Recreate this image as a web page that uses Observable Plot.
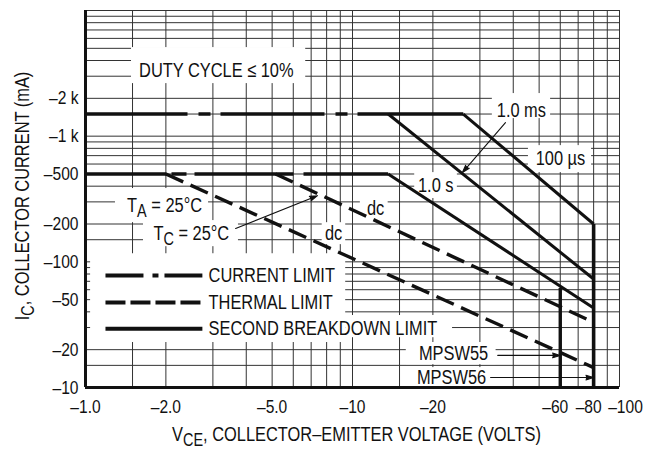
<!DOCTYPE html>
<html><head><meta charset="utf-8">
<script src="https://cdn.jsdelivr.net/npm/d3@7"></script>
<script src="https://cdn.jsdelivr.net/npm/@observablehq/plot@0.6"></script>
<style>
html,body{margin:0;padding:0;background:#fff;}
#chart{width:660px;height:450px;}
</style></head><body><div id="chart"></div>
<script>
// ---------- axes ----------
const xTickValues = [1, 2, 5, 10, 20, 60, 80, 100];
const xTickLabels = ["–1.0", "–2.0", "–5.0", "–10", "–20", "–60", "–80", "–100"];
const yTickValues = [10, 20, 50, 100, 200, 500, 1000, 2000];
const yTickLabels = ["–10", "–20", "–50", "–100", "–200", "–500", "–1 k", "–2 k"];
const xGridValues = [1.5, 2, 3, 4, 5, 6, 7, 8, 9, 10, 15, 20, 30, 40, 50, 60, 70, 80, 90, 100];
const yGridValues = [15, 20, 30, 40, 50, 60, 70, 80, 90, 100, 150, 200, 300, 400, 500, 600, 700, 800, 900,
  1000, 1500, 2000, 3000, 4000, 5000, 6000, 7000, 8000, 9000, 10000];
const yMinorTicks = [30, 40, 50, 60, 70, 80, 90, 100];
const xTitle = "V_{CE}, COLLECTOR–EMITTER VOLTAGE (VOLTS)";
const yTitle = "I_{C}, COLLECTOR CURRENT (mA)";

// ---------- series (|V_CE| in volts, |I_C| in mA) ----------
const currentLimitPulseV = [1, 26];    const currentLimitPulseI = [1500, 1500];
const currentLimitDcV = [1, 13.6];     const currentLimitDcI = [500, 500];
const sb100usV = [26, 80];             const sb100usI = [1500, 200];
const sb1msV = [13.6, 80];             const sb1msI = [1500, 73];
const sb1sV = [13.6, 80];              const sb1sI = [500, 43];
const thermalTcV = [5.15, 80];         const thermalTcI = [500, 33];
const thermalTaV = [2, 80];            const thermalTaI = [500, 14.4];
const mpsw55V = [60, 60];              const mpsw55I = [62, 10];
const mpsw56V = [80, 80];              const mpsw56I = [200, 10];

// ---------- annotations ----------
const labelTexts = ["DUTY CYCLE ≤ 10%", "1.0 ms", "100 µs", "1.0 s", "dc", "dc", "T_{A} = 25°C", "T_{C} = 25°C", "MPSW55", "MPSW56"];
const labelV = [3.09, 42.9, 60.1, 20.5, 12.2, 8.49, 1.977, 2.49, 23.9, 23.5];
const labelI = [3330, 1600, 664, 405, 265, 168, 281, 168, 18.6, 12.0];

const boxV1 = [1.487, 33.4, 45.6, 17.1, 10.7, 7.7, 1.295, 1.649, 1, 9.43, 15.9, 15.9];
const boxV2 = [6.68, 55.2, 78.6, 24.7, 13.6, 9.43, 2.89, 3.74, 9.43, 23.7, 34.5, 32.9];
const boxI1 = [2620, 1380, 513, 319, 217, 137, 205, 132, 22.8, 24.9, 15.2, 10.1];
const boxI2 = [5070, 2183, 841, 513, 319, 205, 383, 213, 116, 37.4, 22.8, 14.4];

const arrowV1 = [37.4, 3.65, 35.0, 32.9];
const arrowI1 = [1283, 184, 18.0, 12.0];
const arrowV2 = [25.8, 7.39, 60, 80];
const arrowI2 = [513, 336, 18.0, 12.0];

const legendNames = ["CURRENT LIMIT", "THERMAL LIMIT", "SECOND BREAKDOWN LIMIT"];
const legendI = [77.8, 47.4, 29.4];
const legendSampleV = [1.188, 2.74];
const legendTextV = [2.89, 2.89, 2.89];

// ---------- build ----------
const pts = (vs, is) => vs.map((v, k) => ({v, i: is[k]}));
const xLabel = new Map(xTickValues.map((d, k) => [d, xTickLabels[k]]));
const yLabel = new Map(yTickValues.map((d, k) => [d, yTickLabels[k]]));
const labels = labelTexts.map((t, k) => ({t, v: labelV[k], i: labelI[k]}));
const boxes = boxV1.map((v, k) => ({v1: v, v2: boxV2[k], i1: boxI1[k], i2: boxI2[k]}));
const arrows = arrowV1.map((v, k) => ({v1: v, i1: arrowI1[k], v2: arrowV2[k], i2: arrowI2[k]}));
const legendTexts = legendNames.map((t, k) => ({t, v: legendTextV[k], i: legendI[k]}));
const FONT = "'Liberation Sans', Arial, sans-serif";
const K = "#111";
const lineOpts = (w, dash) => ({x: "v", y: "i", stroke: K, strokeWidth: w, strokeDasharray: dash, strokeLinecap: "butt"});
const xTickText = (vals, dx) => Plot.text(vals, {x: d => d, text: d => xLabel.get(d), frameAnchor: "bottom", lineAnchor: "top", dy: 12, dx, fontSize: 19, fill: K});

const chart = Plot.plot({
  width: 660, height: 450,
  marginLeft: 85, marginRight: 41, marginTop: 10, marginBottom: 63,
  x: {type: "log", domain: [1, 100], axis: null},
  y: {type: "log", domain: [10, 10000], axis: null},
  style: {fontFamily: FONT, background: "white", color: "black"},
  marks: [
    Plot.ruleX(xGridValues, {stroke: "#333", strokeWidth: 1}),
    Plot.ruleY(yGridValues, {stroke: "#333", strokeWidth: 1}),
    Plot.rect(boxes, {x1: "v1", x2: "v2", y1: "i1", y2: "i2", fill: "white"}),
    Plot.ruleY(yMinorTicks, {x1: 1, x2: 1.045, stroke: "#333", strokeWidth: 1}),
    // current limits (dash-dot)
    Plot.line(pts(currentLimitPulseV, currentLimitPulseI), lineOpts(3.6, "102,11,12,10,104,11,12,10,1000")),
    Plot.line(pts(currentLimitDcV, currentLimitDcI), lineOpts(3.6, "81,5,15,8,99,10,200")),
    // thermal limits (dashed)
    Plot.line(pts(thermalTaV, thermalTaI), lineOpts(3.4, "19,8")),
    Plot.line(pts(thermalTcV, thermalTcI), lineOpts(3.4, "19,8")),
    // second breakdown (solid)
    Plot.line(pts(sb100usV, sb100usI), lineOpts(3)),
    Plot.line(pts(sb1msV, sb1msI), lineOpts(3)),
    Plot.line(pts(sb1sV, sb1sI), lineOpts(3)),
    Plot.line(pts(mpsw55V, mpsw55I), lineOpts(3.4)),
    Plot.line(pts(mpsw56V, mpsw56I), lineOpts(3.6)),
    // frame
    Plot.ruleX([1], {stroke: K, strokeWidth: 3}),
    Plot.ruleY([10], {stroke: K, strokeWidth: 3}),
    // arrows
    Plot.arrow(arrows, {x1: "v1", y1: "i1", x2: "v2", y2: "i2", stroke: K, fill: K, strokeWidth: 1.1, headLength: 11, headAngle: 34}),
    // labels
    Plot.text(labels, {x: "v", y: "i", text: "t", fontSize: 20, fill: K}),
    // legend
    Plot.line(pts(legendSampleV, [legendI[0], legendI[0]]), lineOpts(4, "38,9,6,6,40")),
    Plot.line(pts(legendSampleV, [legendI[1], legendI[1]]), lineOpts(4, "20,5")),
    Plot.line(pts(legendSampleV, [legendI[2], legendI[2]]), lineOpts(4)),
    Plot.text(legendTexts, {x: "v", y: "i", text: "t", textAnchor: "start", fontSize: 20, fill: K}),
    // tick labels
    xTickText(xTickValues.filter(d => d < 60), 0),
    xTickText([60, 80], -5),
    xTickText([100], 6),
    Plot.text(yTickValues, {y: d => d, text: d => yLabel.get(d), frameAnchor: "left", textAnchor: "end", dx: -7, fontSize: 19, fill: K}),
    // axis titles
    Plot.text([xTitle], {frameAnchor: "bottom", textAnchor: "middle", lineAnchor: "middle", dy: 47, dx: 4, fontSize: 20, fill: K}),
    Plot.text([yTitle], {frameAnchor: "left", textAnchor: "middle", lineAnchor: "middle", rotate: -90, dx: -63, dy: -3, fontSize: 20, fill: K})
  ]
});

// subscripts
chart.querySelectorAll("text").forEach(t => {
  const s = t.textContent;
  if (!s.includes("_{")) return;
  const parts = s.split(/(_\{[^}]*\})/).filter(p => p);
  while (t.firstChild) t.removeChild(t.firstChild);
  let lowered = false;
  parts.forEach(p => {
    const ts = document.createElementNS("http://www.w3.org/2000/svg", "tspan");
    if (p.startsWith("_{")) {
      ts.textContent = p.slice(2, -1);
      ts.setAttribute("dy", "5");
      ts.setAttribute("font-size", "88%");
      lowered = true;
    } else {
      ts.textContent = p;
      if (lowered) { ts.setAttribute("dy", "-5"); lowered = false; }
    }
    t.appendChild(ts);
  });
});
document.getElementById("chart").appendChild(chart);
// condensed lettering, as in the reference (Helvetica Narrow look)
chart.querySelectorAll("text").forEach(t => {
  const L = t.getComputedTextLength();
  if (L > 0) {
    t.setAttribute("textLength", (L * 0.82).toFixed(1));
    t.setAttribute("lengthAdjust", "spacingAndGlyphs");
  }
});
</script></body></html>
